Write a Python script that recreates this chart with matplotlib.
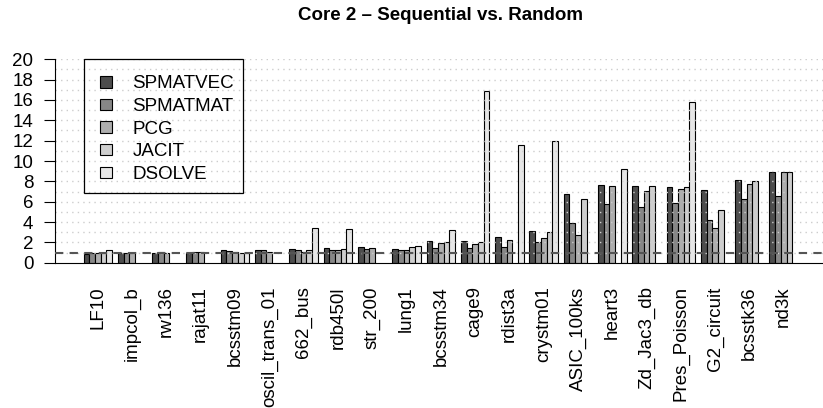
import numpy as np
import matplotlib
matplotlib.use("Agg")
import matplotlib.pyplot as plt
from matplotlib.patches import Rectangle

plt.rcParams['font.family'] = ['Liberation Sans', 'DejaVu Sans']

matrices = ["LF10", "impcol_b", "rw136", "rajat11", "bcsstm09", "oscil_trans_01",
            "662_bus", "rdb450l", "str_200", "lung1", "bcsstm34", "cage9", "rdist3a",
            "crystm01", "ASIC_100ks", "heart3", "Zd_Jac3_db", "Pres_Poisson",
            "G2_circuit", "bcsstk36", "nd3k"]
kernels = ["SPMATVEC", "SPMATMAT", "PCG", "JACIT", "DSOLVE"]
nan = np.nan

# speedup random/sequential per matrix (NaN = not run)
spmatvec = [0.82, 1.0, 1.0, 1.0, 1.25, 1.25, 1.38, 1.45, 1.57, 1.38, 2.1,
            2.17, 2.5, 3.08, 6.78, 7.6, 7.57, 7.47, 7.1, 8.09, 8.95]
spmatmat = [0.98, 1.0, 1.05, 1.1, 1.15, 1.2, 1.25, 1.25, 1.3, 1.2, 1.45,
            1.47, 1.57, 2.0, 3.93, 5.8, 5.5, 5.9, 4.23, 6.26, 6.56]
pcg      = [0.98, 1.0, 1.0, 1.05, 1.03, 1.1, 1.1, 1.2, 1.4, 1.2, 1.93,
            1.83, 2.2, 2.4, 2.75, 7.57, 7.08, 7.24, 3.37, 7.7, 8.92]
jacit    = [1.0, nan, nan, nan, 1.0, nan, 1.2, 1.3, nan, 1.57, 2.07,
            2.0, nan, 3.05, 6.26, nan, 7.54, 7.4, 5.18, 7.99, 8.92]
dsolve   = [1.2, nan, nan, nan, 1.0, nan, 3.37, 3.3, nan, 1.6, 3.2,
            16.9, 11.6, 11.96, nan, 9.17, nan, 15.8, nan, nan, nan]

series = [spmatvec, spmatmat, pcg, jacit, dsolve]
colors = ["#4D4D4D", "#878787", "#AEAEAE", "#CECECE", "#E6E6E6"]
fs = 13.5

W, H = 823, 408
fig = plt.figure(figsize=(W / 100, H / 100), dpi=100)

# plot region in pixels: x from 55 to 826.6, y from 59.3 (value 20) to 262.7 (value 0)
x0, x1 = 55, 826.6
y_top, y_bot = 59.3, 262.7
ax = fig.add_axes([x0 / W, (H - y_bot) / H, (x1 - x0) / W, (y_bot - y_top) / H])

group_start = 1 + 6 * np.arange(len(matrices))
for i, (vals, c) in enumerate(zip(series, colors)):
    ax.bar(group_start + i, vals, width=1, align='edge', color=c,
           edgecolor='black', linewidth=0.8, label=kernels[i], zorder=1)

ax.set_xlim(-4, 131)
ax.set_ylim(0, 20)

# dotted grid every unit, drawn over the bars
for yv in range(1, 21):
    ax.axhline(yv, color='#cdcdcd', linestyle=(0, (1, 3)), linewidth=1, zorder=2)
ax.axhline(1, color='#555555', linestyle=(0, (4, 3)), linewidth=1.5, zorder=3)

ax.set_yticks(np.arange(0, 21, 2))
ax.tick_params(axis='y', labelsize=fs, length=8, width=0.8, pad=7.5)
ax.set_xticks(group_start + 2.5)
ax.set_xticklabels(matrices, rotation=90, fontsize=fs)
ax.tick_params(axis='x', length=0, pad=17)

for s in ['top', 'right']:
    ax.spines[s].set_visible(False)
ax.spines['left'].set_bounds(0, 20)
ax.spines['left'].set_linewidth(0.8)
ax.spines['bottom'].set_linewidth(0.8)

leg = ax.legend(loc='upper left', bbox_to_anchor=(100 / W, 1 - 75.5 / H),
                bbox_transform=fig.transFigure, frameon=False, fontsize=fs,
                handlelength=0.62, handleheight=0.55, handletextpad=1.1,
                labelspacing=0.3, borderpad=0, borderaxespad=0)

fig.patches.append(Rectangle((84 / W, 1 - 192.7 / H), (243.3 - 84) / W, (192.7 - 59.3) / H,
                             transform=fig.transFigure, fill=False, edgecolor='black',
                             linewidth=0.9, zorder=5))

fig.text(440.8 / W, 1 - 15 / H, "Core 2 \u2013 Sequential vs. Random",
         ha='center', va='center', fontsize=fs, fontweight='bold')

fig.savefig("out.png", dpi=100)
